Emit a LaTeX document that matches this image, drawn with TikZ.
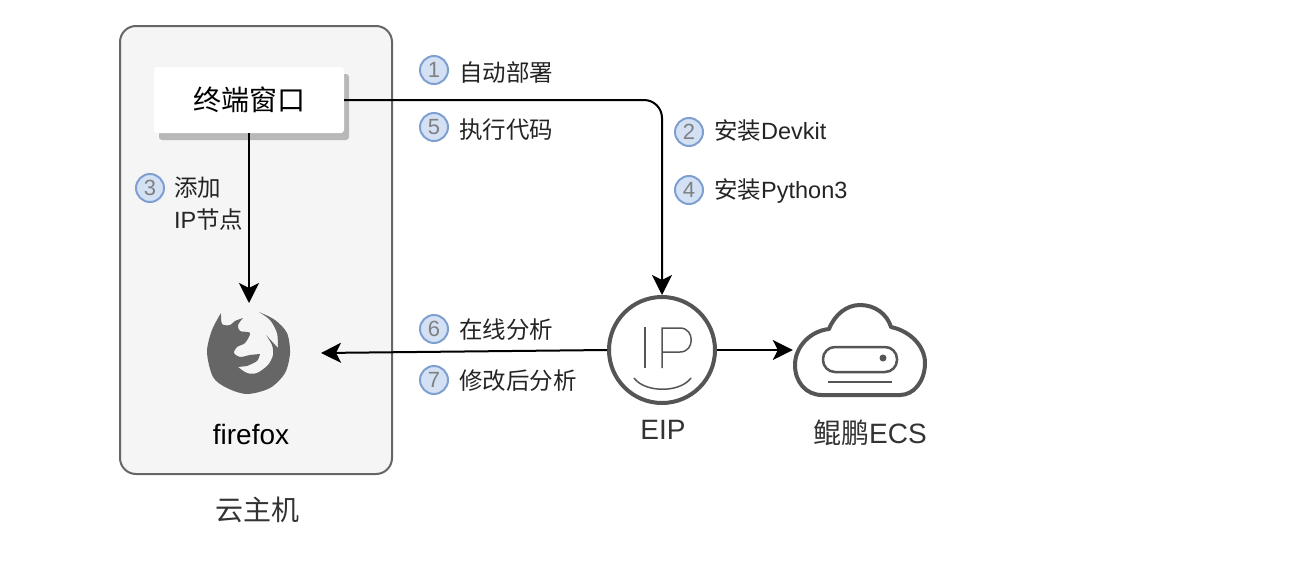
\documentclass[tikz,border=0pt]{standalone}
\usepackage{fontspec}
\setmainfont{Liberation Sans}
\newfontfamily\cjk{Noto Sans CJK SC}
\newcommand{\zh}[1]{{\cjk #1}}
\usetikzlibrary{positioning,arrows.meta,shadows}

\definecolor{boxgray}{HTML}{F5F5F5}
\definecolor{boxline}{HTML}{666666}
\definecolor{icongray}{HTML}{555555}
\definecolor{foxgray}{HTML}{666666}
\definecolor{numfill}{HTML}{D4E1F5}
\definecolor{numline}{HTML}{7EA0D0}
\definecolor{numtext}{HTML}{808080}
\definecolor{captext}{HTML}{333333}

\tikzset{
	big/.style={font=\fontsize{28}{32}\selectfont,inner sep=0pt},
	lbl/.style={font=\fontsize{23.5}{32}\selectfont,inner sep=0pt,text=captext!70!black},
	num/.style={circle,draw=numline,fill=numfill,line width=2pt,minimum size=28pt,inner sep=0pt,
		text=numtext,font=\fontsize{22}{24}\selectfont},
	link/.style={draw=black,line width=2pt,-{Stealth[length=20pt,width=20pt,inset=5pt]}},
	icon/.style={draw=icongray,line width=4pt,line join=round}
}

\begin{document}
\begin{tikzpicture}[x=1pt,y=-1pt]
	\useasboundingbox (0,0) rectangle (1302,576);

	% host box
	\node[draw=boxline,fill=boxgray,line width=2pt,rounded corners=16pt,minimum width=272pt,minimum height=448pt] (host) at (256,250) {};
	\node[big,text=captext] (hostlabel) at (257,510) {\zh{云主机}};

	% terminal
	\node[big,fill=white,rounded corners=3pt,minimum width=190pt,minimum height=66pt,
		drop shadow={shadow xshift=5pt,shadow yshift=-7pt,fill=black!28,opacity=1}] (term) at (249,100) {\zh{终端窗口}};

	% firefox
	\coordinate (foxtop) at (249,303);
	\coordinate (foxright) at (321,353);
	\fill[foxgray] plot[smooth,tension=.5] coordinates {(221,313) (212,330) (207,352) (213,377) (227,388) (247,394) (270,388) (285,373) (290,353) (287,333) (275,320) (259,312)}
		-- plot[smooth,tension=.5] coordinates {(259,312) (270,320) (277,333) (278,348)}
		-- plot[smooth,tension=.5] coordinates {(266,335) (272,345) (273,355) (268,365) (257,373) (247,373) (238,367)}
		-- plot[smooth,tension=.5] coordinates {(247,366) (257,361) (260,354)}
		-- plot[smooth,tension=.5] coordinates {(260,354) (250,355) (240,357) (234,353) (237,347) (245,343) (250,333) (240,331) (238,325) (243,318)}
		-- plot[smooth,tension=.5] coordinates {(243,318) (235,321) (230,325) (222,324) (221,313)} -- cycle;
	\node[big] (foxlabel) at (251,434) {firefox};

	% eip
	\node[circle,draw=icongray,fill=white,line width=4pt,minimum size=106pt,inner sep=0pt] (ip) at (662,350) {};
	\draw[icongray,line width=1.5pt] (645,327) -- (645,368);
	\draw[icongray,line width=1.5pt] (662,368) -- (662,328) -- (680,328) .. controls (695,328) and (695,352) .. (680,352) -- (662,352);
	\draw[icongray,line width=1.5pt] (634,378) .. controls (645,393) and (680,393) .. (691,378);
	\node[big,text=captext] (iplabel) at (663,430) {EIP};

	% ecs
	\node[minimum width=134pt,minimum height=94pt,inner sep=0pt] (ecs) at (860,350) {};
	\draw[icon] (822,395) .. controls (806,395) and (795,382) .. (795,365)
		.. controls (795,347) and (810,331) .. (829,329)
		.. controls (835,314) and (847,305) .. (860,305)
		.. controls (875,305) and (887,314) .. (891,327)
		.. controls (910,331) and (925,346) .. (925,363)
		.. controls (925,381) and (914,395) .. (900,395) -- cycle;
	\draw[icongray,line width=2.5pt,rounded corners=12pt] (823,347) rectangle (897,372);
	\fill[icongray] (883,358) circle (3.5pt);
	\draw[icongray,line width=2pt] (828,382) -- (892,382);
	\node[big,text=captext] (ecslabel) at (870,433) {\zh{鲲鹏}ECS};

	% connectors
	\draw[link,rounded corners=18pt] (term.east) -| (ip.north);
	\draw[link] (term.south) -- (foxtop);
	\draw[link] (ip.west) -- (foxright);
	\draw[link] (ip.east) -- (ecs.west);

	% steps
	\node[num] (n1) at (434,70) {1};
	\node[lbl,right=10pt of n1,yshift=-3pt] (t1) {\zh{自动部署}};
	\node[num] (n5) at (434,127) {5};
	\node[lbl,right=10pt of n5,yshift=-3pt] (t5) {\zh{执行代码}};
	\node[num] (n2) at (689,132) {2};
	\node[lbl,right=10pt of n2,yshift=1pt] (t2) {\zh{安装}Devkit};
	\node[num] (n4) at (689,190) {4};
	\node[lbl,right=10pt of n4,yshift=-1pt] (t4) {\zh{安装}Python3};
	\node[num] (n3) at (150,188) {3};
	\node[lbl,align=left,anchor=north west] (t3) at (174,177) {\zh{添加}\\IP\zh{节点}};
	\node[num] (n6) at (434,329) {6};
	\node[lbl,right=10pt of n6,yshift=-1pt] (t6) {\zh{在线分析}};
	\node[num] (n7) at (434,380) {7};
	\node[lbl,right=10pt of n7,yshift=-1pt] (t7) {\zh{修改后分析}};
\end{tikzpicture}
\end{document}
